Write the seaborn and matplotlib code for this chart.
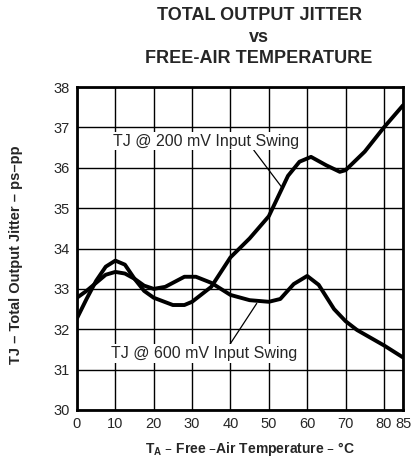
import matplotlib
matplotlib.use('Agg')
import matplotlib.pyplot as plt
import seaborn as sns
import pandas as pd

# TJ @ 200 mV input swing
temp_200 = [0, 2.5, 5, 7.5, 10, 12.5, 15, 17.5, 20, 25, 28, 30, 35, 40, 45, 50,
            55, 58, 61, 65, 68.5, 70, 75, 80, 85]
tj_200 = [32.27, 32.75, 33.2, 33.55, 33.7, 33.6, 33.25, 32.95, 32.78, 32.6, 32.6,
          32.68, 33.05, 33.78, 34.25, 34.8, 35.8, 36.15, 36.27, 36.06, 35.9, 35.94,
          36.4, 37.0, 37.55]

# TJ @ 600 mV input swing
temp_600 = [0, 2.5, 5, 7.5, 10, 12.5, 15, 17.5, 20, 23, 25, 28, 31, 35, 40, 45,
            50, 53, 56.5, 60, 63, 67, 70, 73, 80, 85]
tj_600 = [32.78, 32.95, 33.15, 33.35, 33.42, 33.38, 33.25, 33.08, 33.0, 33.05,
          33.15, 33.3, 33.3, 33.15, 32.85, 32.72, 32.68, 32.75, 33.12, 33.32, 33.1,
          32.5, 32.2, 31.98, 31.6, 31.3]

x_ticks = [0, 10, 20, 30, 40, 50, 60, 70, 80, 85]
y_ticks = [30, 31, 32, 33, 34, 35, 36, 37, 38]

sns.set_style('white')
plt.rcParams['font.family'] = ['Liberation Sans', 'DejaVu Sans']

fig = plt.figure(figsize=(4.16, 4.68), dpi=100)
ax = fig.add_axes([0.185, 0.124, 0.784, 0.690])

df200 = pd.DataFrame({'t': temp_200, 'tj': tj_200})
df600 = pd.DataFrame({'t': temp_600, 'tj': tj_600})
sns.lineplot(data=df200, x='t', y='tj', ax=ax, color='black', linewidth=2.8, zorder=3)
sns.lineplot(data=df600, x='t', y='tj', ax=ax, color='black', linewidth=2.8, zorder=3)

ax.set_xlim(0, 85)
ax.set_ylim(30, 38)
ax.set_xticks(x_ticks)
ax.set_yticks(y_ticks)
ax.tick_params(axis='both', length=0, labelsize=10.5, pad=5)
ax.grid(True, color='black', linewidth=1.0)
for s in ax.spines.values():
    s.set_linewidth(2)
    s.set_color('black')

# annotations with leader lines
ax.annotate('TJ @ 200 mV Input Swing', xy=(53.6, 35.49), xytext=(9.4, 36.66),
            fontsize=11.5, va='center', ha='left', zorder=4,
            bbox=dict(boxstyle='square,pad=0.1', fc='white', ec='none'),
            arrowprops=dict(arrowstyle='-', color='black', lw=0.9,
                            shrinkA=0, shrinkB=0, relpos=(0.75, 0.0)))
ax.annotate('TJ @ 600 mV Input Swing', xy=(46.85, 32.64), xytext=(9.0, 31.4),
            fontsize=11.5, va='center', ha='left', zorder=4,
            bbox=dict(boxstyle='square,pad=0.1', fc='white', ec='none'),
            arrowprops=dict(arrowstyle='-', color='black', lw=0.9,
                            shrinkA=0, shrinkB=0, relpos=(0.63, 1.0)))

ax.set_xlabel('T$_\\mathregular{A}$ – Free –Air Temperature – °C', fontsize=10,
              fontweight='bold')
ax.xaxis.set_label_coords(0.53, -0.094)
ax.set_ylabel('TJ – Total Output Jitter – ps–pp', fontsize=10.5, fontweight='bold')
ax.yaxis.set_label_coords(-0.165, 0.48)

fig.text(0.623, 0.985, 'TOTAL OUTPUT JITTER\nvs\nFREE-AIR TEMPERATURE',
         ha='center', va='top', fontsize=13, fontweight='bold', linespacing=1.35)

fig.savefig('out.png', dpi=100)
